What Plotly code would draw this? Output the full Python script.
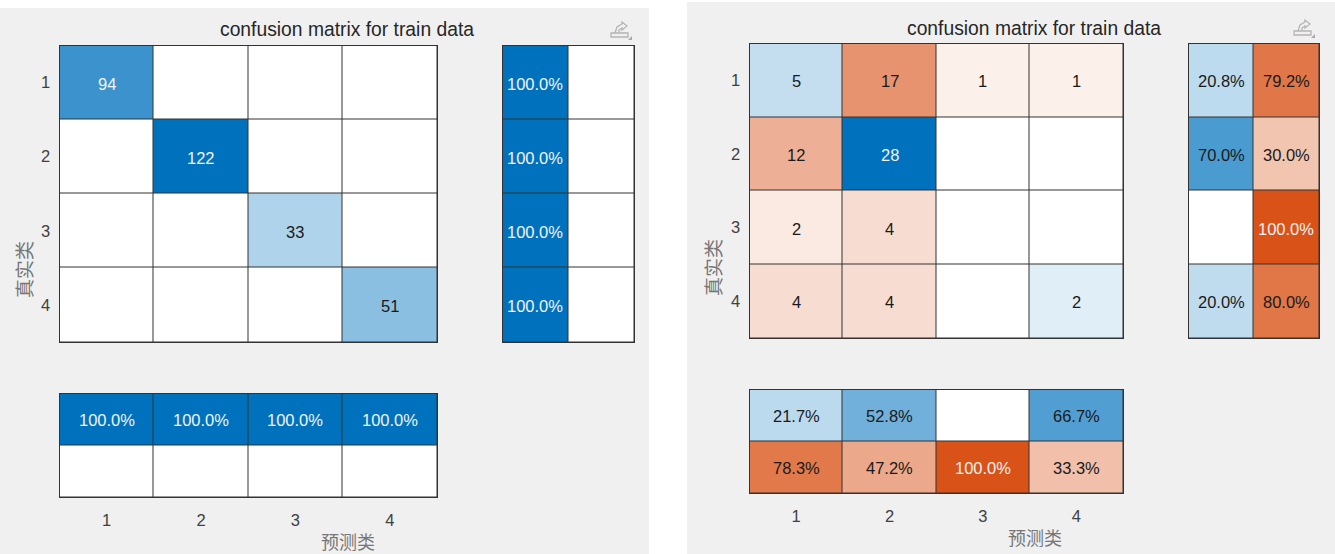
import plotly.graph_objects as go

W, H = 1335, 554

# ---- data ----
labels = [1, 2, 3, 4]
summary_cols = [1, 2]
summary_rows = [1, 2]

train_counts = [
    [94, 0, 0, 0],
    [0, 122, 0, 0],
    [0, 0, 33, 0],
    [0, 0, 0, 51],
]
train_row_correct = [100.0, 100.0, 100.0, 100.0]
train_row_wrong = [0.0, 0.0, 0.0, 0.0]
train_col_correct = [100.0, 100.0, 100.0, 100.0]
train_col_wrong = [0.0, 0.0, 0.0, 0.0]

test_counts = [
    [5, 17, 1, 1],
    [12, 28, 0, 0],
    [2, 4, 0, 0],
    [4, 4, 0, 2],
]
test_row_correct = [20.8, 70.0, 0.0, 20.0]
test_row_wrong = [79.2, 30.0, 100.0, 80.0]
test_col_correct = [21.7, 52.8, 0.0, 66.7]
test_col_wrong = [78.3, 47.2, 100.0, 33.3]

title_text = "confusion matrix for train data"
xlabel_text = "预测类"
ylabel_text = "真实类"

# ---- style ----
BLUE = (0, 114, 189)
ORANGE = (217, 83, 25)
PANEL = "#F0F0F0"
GRID = "#333333"
FONT = "Liberation Sans, Arial, sans-serif"
CJK = "Noto Sans CJK SC, sans-serif"

# the shading of the reference is slightly stronger for small values
ramp = [(0, 0), (0.036, 0.087), (0.143, 0.2), (0.3, 0.34), (0.55, 0.58), (0.77, 0.77), (1, 1)]


def mix(rgb, t):
    return "rgb(%d,%d,%d)" % tuple(round(255 + (c - 255) * t) for c in rgb)


colorscale = []
for v, t in reversed(ramp):
    colorscale.append([(1 - v) / 2, mix(ORANGE, t)])
for v, t in ramp[1:]:
    colorscale.append([(1 + v) / 2, mix(BLUE, t)])

fig = go.Figure()
axis_n = 0
notes = []


def add_grid(rows, x, y, fmt, x0, x1, y0, y1, xticks=False, yticks=False):
    """rows holds signed intensities in -1..1 beside their text values."""
    global axis_n
    axis_n += 1
    sfx = "" if axis_n == 1 else str(axis_n)
    z = [[c[0] for c in r] for r in rows]
    fig.add_trace(go.Heatmap(
        z=z, x=x, y=y, zmin=-1, zmax=1, colorscale=colorscale, showscale=False,
        xgap=1, ygap=1, hoverinfo="skip", xaxis="x" + sfx, yaxis="y" + sfx,
    ))
    for j, r in enumerate(rows):
        for i, c in enumerate(r):
            if c[1]:
                light = c[0] > 0.75 or c[0] < -0.9
                notes.append(dict(
                    x=x[i], y=y[j], xref="x" + sfx, yref="y" + sfx, text=fmt % c[1], showarrow=False,
                    xanchor="center", yanchor="middle", yshift=-1,
                    font=dict(family=FONT, size=16.5, color="#F2F2F2" if light else "#1A1A1A"),
                ))
    common = dict(showgrid=False, zeroline=False, showline=True, mirror=True, linecolor=GRID,
                  linewidth=1, ticks="", fixedrange=True,
                  tickfont=dict(family=FONT, size=16.5, color="#404040"))
    fig.update_layout({
        "xaxis" + sfx: dict(common, domain=[(x0 + .5) / W, x1 / W], anchor="y" + sfx,
                            range=[min(x) - .5, max(x) + .5], tickmode="array",
                            tickvals=x if xticks else [], ticklabelstandoff=8 if xticks else 0),
        "yaxis" + sfx: dict(common, domain=[1 - y1 / H, 1 - (y0 + .5) / H], anchor="x" + sfx,
                            range=[max(y) + .5, min(y) - .5], tickmode="array",
                            tickvals=y if yticks else [], ticklabelstandoff=5 if yticks else 0),
    })


def page_note(text, x, y, font, **kw):
    notes.append(dict(text=text, x=x / W, y=1 - y / H, xref="paper", yref="paper", showarrow=False,
                      xanchor="center", yanchor="middle", font=font, **kw))


def icon_path(ix, iy, pts, close=True):
    d = "M" + " L".join("%.5f,%.5f" % ((ix + a) / W, 1 - (iy + b) / H) for a, b in pts)
    return d + (" Z" if close else "")


def panel(counts, row_ok, row_bad, col_ok, col_bad, main, side, bottom, title_xy, xl_xy, yl_xy, icon):
    peak = max(max(r) for r in counts)
    rows = [[((1 if i == j else -1) * v / peak, v) for j, v in enumerate(r)] for i, r in enumerate(counts)]
    add_grid(rows, labels, labels, "%d", *main, yticks=True)
    rows = [[(a / 100, a), (-b / 100, b)] for a, b in zip(row_ok, row_bad)]
    add_grid(rows, summary_cols, labels, "%.1f%%", *side)
    rows = [[(a / 100, a) for a in col_ok], [(-b / 100, b) for b in col_bad]]
    add_grid(rows, labels, summary_rows, "%.1f%%", *bottom, xticks=True)

    page_note(title_text, *title_xy, dict(family=FONT, size=19.3, color="#262626"))
    page_note(xlabel_text, *xl_xy, dict(family=CJK, size=18, color="#777777"))
    page_note(ylabel_text, *yl_xy, dict(family=CJK, size=19, color="#777777"), textangle=-90)

    # small pencil toolbar glyph
    ix, iy = icon
    ln = dict(color="#B4B4B4", width=1.3)
    fig.add_shape(type="path", xref="paper", yref="paper", line=ln, fillcolor="rgba(0,0,0,0)",
                  path=icon_path(ix, iy, [(-10, 2), (7, 2), (7, 6), (-10, 6)]))
    fig.add_shape(type="path", xref="paper", yref="paper", line=ln, fillcolor="rgba(0,0,0,0)",
                  path=icon_path(ix, iy, [(-6, 2), (-4, -4), (1, -7), (1, -9), (6, -5), (1, -1), (1, -3), (-2, -1), (-2, 2)], False))
    fig.add_shape(type="path", xref="paper", yref="paper", line_width=0, fillcolor="#A8A8A8",
                  path=icon_path(ix, iy, [(7, 9), (11, 9), (11, 5)]))


panel(train_counts, train_row_correct, train_row_wrong, train_col_correct, train_col_wrong,
      main=(59, 437, 45, 342), side=(502, 634, 45, 342), bottom=(59, 437, 393, 497),
      title_xy=(347, 30), xl_xy=(348, 541), yl_xy=(23, 270), icon=(621, 31))
panel(test_counts, test_row_correct, test_row_wrong, test_col_correct, test_col_wrong,
      main=(749, 1123, 43, 338), side=(1188, 1319, 43, 338), bottom=(749, 1123, 389, 493),
      title_xy=(1034, 28), xl_xy=(1035, 537), yl_xy=(712, 268), icon=(1304, 29))

# panel grey is the page colour; white strips separate the two figures
strips = [(0, 649, 0, 8), (649, 687, 0, 554), (687, 1335, 0, 2)]
for a, b, c, d in strips:
    fig.add_shape(type="rect", xref="paper", yref="paper", layer="below", line_width=0, fillcolor="#FFFFFF",
                  x0=a / W, x1=b / W, y0=1 - d / H, y1=1 - c / H)

fig.update_layout(width=W, height=H, margin=dict(l=0, r=0, t=0, b=0), autosize=False,
                  paper_bgcolor=PANEL, plot_bgcolor=GRID, showlegend=False, annotations=notes)

fig.write_html("out.html", config=dict(displayModeBar=False),
               post_script="document.body.style.margin='0';document.body.style.overflow='hidden';")
